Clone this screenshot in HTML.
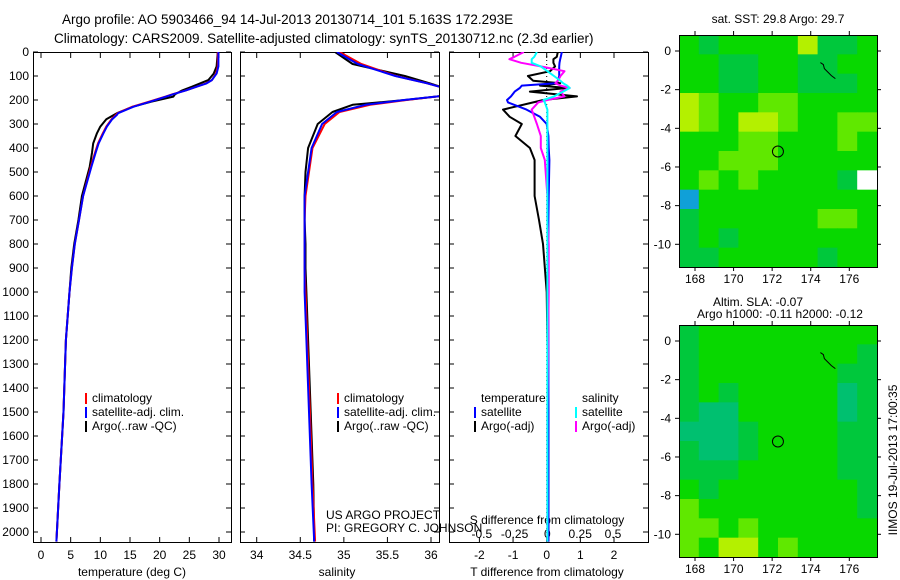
<!DOCTYPE html>
<html><head><meta charset="utf-8"><style>
html,body{margin:0;padding:0;background:#fff;}
svg{display:block;font-family:"Liberation Sans",sans-serif;}
</style></head><body>
<svg id="fig" width="900" height="580" viewBox="0 0 900 580">
<text x="62" y="24" font-size="13.5">Argo profile: AO 5903466_94 14-Jul-2013 20130714_101 5.163S 172.293E</text>
<text x="54" y="43" font-size="13.5">Climatology: CARS2009. Satellite-adjusted climatology: synTS_20130712.nc (2.3d earlier)</text>
<text x="778" y="23" font-size="12" text-anchor="middle">sat. SST: 29.8 Argo: 29.7</text>
<text x="758" y="306" font-size="12" text-anchor="middle">Altim. SLA: -0.07</text>
<text x="780" y="318" font-size="12" text-anchor="middle">Argo h1000: -0.11 h2000: -0.12</text>
<text transform="translate(897,460) rotate(-90)" font-size="12" text-anchor="middle">IIMOS 19-Jul-2013 17:00:35</text>
</svg>
<script>
// ---------- data ----------
const depthTicks=[0,100,200,300,400,500,600,700,800,900,1000,1100,1200,1300,1400,1500,1600,1700,1800,1900,2000];
const tempTicks=[0,5,10,15,20,25,30];
const salTicks=[34,34.5,35,35.5,36];
const tdiffTicks=[-2,-1,0,1,2];
const sdiffTicks=[-0.5,-0.25,0,0.25,0.5];
const tDepth=[0,60,90,117,131,144,160,176,186,207,228,255,262,280,311,340,381,420,478,600,700,800,900,1000,1200,1500,1800,2040];
const tempClim=[29.8,29.8,29.5,28.8,27.8,26.3,24.4,22.2,21.0,18.2,15.4,12.9,12.6,11.9,11.0,10.4,9.6,9.1,8.4,7.1,6.4,5.7,5.2,4.8,4.2,3.8,3.1,2.6];
const tempSat =[29.9,29.9,29.6,28.8,27.9,26.3,24.4,22.3,21.1,18.4,15.6,13.0,12.8,12.0,11.1,10.5,9.7,9.2,8.5,7.1,6.4,5.7,5.2,4.8,4.2,3.8,3.1,2.6];
const tempArgo=[29.8,29.6,29.1,28.2,26.8,25.5,23.8,22.6,22.3,18.6,15.5,12.8,12.3,11.0,10.0,9.4,8.8,8.6,8.2,6.9,6.3,5.6,5.1,4.8,4.2,3.8,3.1,2.6];
const profDepth=[0,50,100,130,150,180,200,220,250,300,400,500,600,700,800,900,1000,1200,1500,1800,2040];
const salClim=[34.95,35.2,35.6,35.95,36.15,36.2,35.72,35.3,34.95,34.78,34.64,34.6,34.56,34.55,34.55,34.55,34.56,34.58,34.61,34.64,34.67];
const salSat =[34.92,35.16,35.59,35.95,36.15,36.2,35.69,35.25,34.92,34.75,34.63,34.59,34.55,34.55,34.55,34.55,34.55,34.57,34.6,34.63,34.66];
const salArgo=[34.9,35.1,35.7,35.98,36.15,36.2,35.7,35.1,34.87,34.7,34.59,34.56,34.55,34.55,34.56,34.56,34.57,34.59,34.62,34.65,34.66];
const diffDepth=[0,20,30,45,60,80,100,120,130,140,150,165,185,200,210,240,270,300,350,400,450,600,700,800,1000,1500,2040];
const tdiffArgo=[0.33,0.3,0.2,0.2,0.25,0.1,-0.56,-0.4,0.4,-0.2,0.6,-0.5,0.9,-0.1,-0.4,-1.3,-1.1,-0.74,-0.93,-0.5,-0.36,-0.36,-0.23,-0.11,0.0,0.05,0.05];
const tdiffSat=[0.45,0.42,0.4,0.38,0.37,0.37,0.37,0.33,0.27,-0.74,-0.8,-0.95,-1.06,-1.18,-1.15,-0.6,-0.2,0.0,0.05,0.06,0.08,0.06,0.05,0.05,0.05,0.05,0.05];
const sdiffArgo=[-0.18,-0.25,-0.29,-0.2,-0.05,0.13,0.1,0.08,0.06,0.1,0.17,0.1,0.13,0.0,-0.07,-0.12,-0.1,-0.08,-0.05,-0.05,-0.02,0.0,0.0,0.01,0.01,0.0,0.0];
const sdiffSat=[-0.08,-0.1,-0.12,-0.12,-0.05,0.0,0.05,0.1,0.12,0.15,0.17,0.12,0.05,-0.03,-0.02,0.0,0.0,0.0,0.0,0.0,0.0,0.0,0.0,0.0,0.0,0.0,0.0];
const latTicks=[0,-2,-4,-6,-8,-10];
const lonTicks=[168,170,172,174,176];
// map grid levels: 0 teal,1 green,2 lime,3 yellow-green,4 blue,5 white,6 cyan-green
const sstGrid=[
[1,0,1,1,1,1,3,0,0,1],
[1,1,0,0,1,1,0,0,1,1],
[1,1,0,0,1,1,0,0,0,1],
[3,2,1,1,2,2,1,1,1,1],
[3,2,1,3,3,2,1,1,2,2],
[1,1,1,2,2,1,1,1,2,1],
[1,1,2,2,2,1,1,1,1,1],
[1,2,1,2,1,1,1,1,0,5],
[4,1,1,1,1,1,1,1,1,1],
[0,1,1,1,1,1,1,2,2,1],
[0,1,0,1,1,1,1,1,1,1],
[0,0,1,1,1,1,1,0,1,1]];
const slaGrid=[
[0,1,1,1,1,1,1,1,1,1],
[0,1,1,1,1,1,1,1,1,0],
[0,1,1,1,1,1,1,1,0,0],
[0,1,0,1,1,1,1,1,6,0],
[0,6,6,1,1,1,1,1,6,0],
[6,6,6,0,1,1,1,1,0,0],
[0,6,6,0,1,1,1,1,0,0],
[0,0,0,1,1,1,1,1,0,0],
[1,0,1,1,1,1,1,1,1,0],
[2,1,1,1,1,1,1,1,1,0],
[2,2,1,2,1,1,1,1,1,1],
[2,1,3,3,1,2,1,1,1,1]];
const levelColors=["#00c83c","#08d800","#60e800","#b4f000","#10a0d8","#ffffff","#00c070"];

// ---------- helpers ----------
const NS="http://www.w3.org/2000/svg";
const svg=document.getElementById('fig');
function el(tag,attrs,parent){const e=document.createElementNS(NS,tag);for(const k in attrs)e.setAttribute(k,attrs[k]);(parent||svg).appendChild(e);return e;}
function lin(d0,d1,r0,r1){return v=>r0+(v-d0)*(r1-r0)/(d1-d0);}
const yD=lin(0,1000,52,292);
const PT=542;

function panel(x0,x1,name){
  const g=el('g',{});
  
  
  const r=el('rect',{x:x0+0.5,y:52.5,width:x1-x0,height:PT-52,fill:'none',stroke:'#000','stroke-width':1},g);
  
  
  depthTicks.forEach(d=>{const y=yD(d);
    el('line',{x1:x0,x2:x0+5,y1:y,y2:y,stroke:'#000'},g);
    el('line',{x1:x1-5,x2:x1,y1:y,y2:y,stroke:'#000'},g);});
  return g;
}
function line(g,xs,ys,xf,color,w,name,clipId){
  const pts=xs.map((v,i)=>xf(v).toFixed(1)+','+yD(ys[i]).toFixed(1)).join(' ');
  const p=el('polyline',{points:pts,fill:'none',stroke:color,'stroke-width':w,'stroke-linejoin':'round','clip-path':'url(#'+clipId+')'},g);
  
  
}
const defs=el('defs',{});
[[1,33,231],[2,240,439],[3,449,648]].forEach(([i,a,b])=>{const c=el('clipPath',{id:'c'+i},defs);el('rect',{x:a+1,y:52,width:b-a-1,height:PT-52},c);});

// depth axis labels
const yl=el('g',{});


depthTicks.forEach(d=>{const t=el('text',{x:29,y:yD(d)+4,'font-size':12,'text-anchor':'end'},yl);t.textContent=d;});

// panel 1 temperature
const xT=lin(0,30,41,219);
const g1=panel(33,231,'temperature-panel');
tempTicks.forEach(v=>{el('line',{x1:xT(v),x2:xT(v),y1:PT,y2:PT-5,stroke:'#000'},g1);el('line',{x1:xT(v),x2:xT(v),y1:53,y2:58,stroke:'#000'},g1);const t=el('text',{x:xT(v),y:559,'font-size':12,'text-anchor':'middle'},g1);t.textContent=v;});
const tl1=el('text',{x:132,y:576,'font-size':12,'text-anchor':'middle'},g1);tl1.textContent='temperature (deg C)';
line(g1,tempArgo,tDepth,xT,'#000',2,'temp-argo-line','c1');
line(g1,tempClim,tDepth,xT,'#f00',2,'temp-climatology-line','c1');
line(g1,tempSat,tDepth,xT,'#00f',2,'temp-satellite-line','c1');

// panel 2 salinity
const xS=lin(34,36,256.7,431);
const g2=panel(240,439,'salinity-panel');
salTicks.forEach(v=>{el('line',{x1:xS(v),x2:xS(v),y1:PT,y2:PT-5,stroke:'#000'},g2);el('line',{x1:xS(v),x2:xS(v),y1:53,y2:58,stroke:'#000'},g2);const t=el('text',{x:xS(v),y:559,'font-size':12,'text-anchor':'middle'},g2);t.textContent=v;});
const tl2=el('text',{x:337,y:576,'font-size':12,'text-anchor':'middle'},g2);tl2.textContent='salinity';
line(g2,salArgo,profDepth,xS,'#000',2,'sal-argo-line','c2');
line(g2,salClim,profDepth,xS,'#f00',2,'sal-climatology-line','c2');
line(g2,salSat,profDepth,xS,'#00f',2,'sal-satellite-line','c2');

// panel 3 differences
const xTd=lin(0,2,546.7,614);
const xSd=lin(0,0.5,547.4,613);
const g3=panel(449,648,'difference-panel');
tdiffTicks.forEach(v=>{el('line',{x1:xTd(v),x2:xTd(v),y1:PT,y2:PT-5,stroke:'#000'},g3);el('line',{x1:xTd(v),x2:xTd(v),y1:53,y2:58,stroke:'#000'},g3);const t=el('text',{x:xTd(v),y:559,'font-size':12,'text-anchor':'middle'},g3);t.textContent=v;});
sdiffTicks.forEach(v=>{const t=el('text',{x:xSd(v),y:538,'font-size':12,'text-anchor':'middle'},g3);t.textContent=v;});
const tl3=el('text',{x:547,y:576,'font-size':12,'text-anchor':'middle'},g3);tl3.textContent='T difference from climatology';
const tl4=el('text',{x:547,y:524,'font-size':12,'text-anchor':'middle'},g3);tl4.textContent='S difference from climatology';
el('line',{x1:xTd(0),x2:xTd(0),y1:52,y2:PT,stroke:'#000','stroke-dasharray':'1,3'},g3);
line(g3,tdiffArgo,diffDepth,xTd,'#000',2,'tdiff-argo-line','c3');
line(g3,tdiffSat,diffDepth,xTd,'#00f',2,'tdiff-satellite-line','c3');
line(g3,sdiffArgo,diffDepth,xSd,'#f0f',2,'sdiff-argo-line','c3');
line(g3,sdiffSat,diffDepth,xSd,'#0ff',2,'sdiff-satellite-line','c3');

// legends
function leg(x,y,color,label,name){
  const g=el('g',{});
  
  
  if(color)el('rect',{x:x,y:y-9,width:2,height:11,fill:color},g);
  const t=el('text',{x:x+7,y:y,'font-size':12},g);t.textContent=label;
}
leg(85,402,'#f00','climatology','legend-temp-climatology');
leg(85,416,'#00f','satellite-adj. clim.','legend-temp-satellite');
leg(85,430,'#000','Argo(..raw -QC)','legend-temp-argo');
leg(337,402,'#f00','climatology','legend-sal-climatology');
leg(337,416,'#00f','satellite-adj. clim.','legend-sal-satellite');
leg(337,430,'#000','Argo(..raw -QC)','legend-sal-argo');
leg(474,402,null,'temperature','legend-temperature-header');
leg(474,416,'#00f','satellite','legend-tdiff-satellite');
leg(474,430,'#000','Argo(-adj)','legend-tdiff-argo');
leg(575,402,null,'salinity','legend-salinity-header');
leg(575,416,'#0ff','satellite','legend-sdiff-satellite');
leg(575,430,'#f0f','Argo(-adj)','legend-sdiff-argo');
const a1=el('text',{x:326,y:519,'font-size':12});a1.textContent='US ARGO PROJECT';

const a2=el('text',{x:326,y:532,'font-size':12});a2.textContent='PI: GREGORY C. JOHNSON';


// maps
function map(top,grid,name){
  const L=679,R=877,T=top,B=top+232;
  const xL=lin(168,176,695,849.3), yL=lin(0,-10,T+16,T+209.3);
  const g=el('g',{});
  
  
  const rows=grid.length, cols=grid[0].length;
  const cw=(R-L)/cols, ch=(B-T)/rows;
  grid.forEach((row,i)=>row.forEach((v,j)=>{
    const c=el('rect',{x:L+j*cw,y:T+i*ch,width:cw+0.5,height:ch+0.5,fill:levelColors[v]},g);
    
    
  }));
  el('rect',{x:L+0.5,y:T+0.5,width:R-L,height:B-T,fill:'none',stroke:'#000'},g);
  latTicks.forEach(v=>{const y=yL(v);el('line',{x1:L-4,x2:L,y1:y,y2:y,stroke:'#000'},g);el('line',{x1:R,x2:R+4,y1:y,y2:y,stroke:'#000'},g);const t=el('text',{x:L-8,y:y+4,'font-size':12,'text-anchor':'end'},g);t.textContent=v;});
  lonTicks.forEach(v=>{const x=xL(v);el('line',{x1:x,x2:x,y1:T-4,y2:T,stroke:'#000'},g);el('line',{x1:x,x2:x,y1:B,y2:B+4,stroke:'#000'},g);const t=el('text',{x:x,y:B+16,'font-size':12,'text-anchor':'middle'},g);t.textContent=v;});
  const c=el('circle',{cx:xL(172.3),cy:yL(-5.2),r:5.5,fill:'none',stroke:'#000'},g);
  
  
  el('path',{d:`M${xL(174.5)} ${yL(-0.6)} l3 2 l1 4 l4 4 l3 3 l4 3`,fill:'none',stroke:'#000','stroke-width':1},g);
}
map(35,sstGrid,'sst-map');
map(325,slaGrid,'sla-map');
</script>
</body></html>
